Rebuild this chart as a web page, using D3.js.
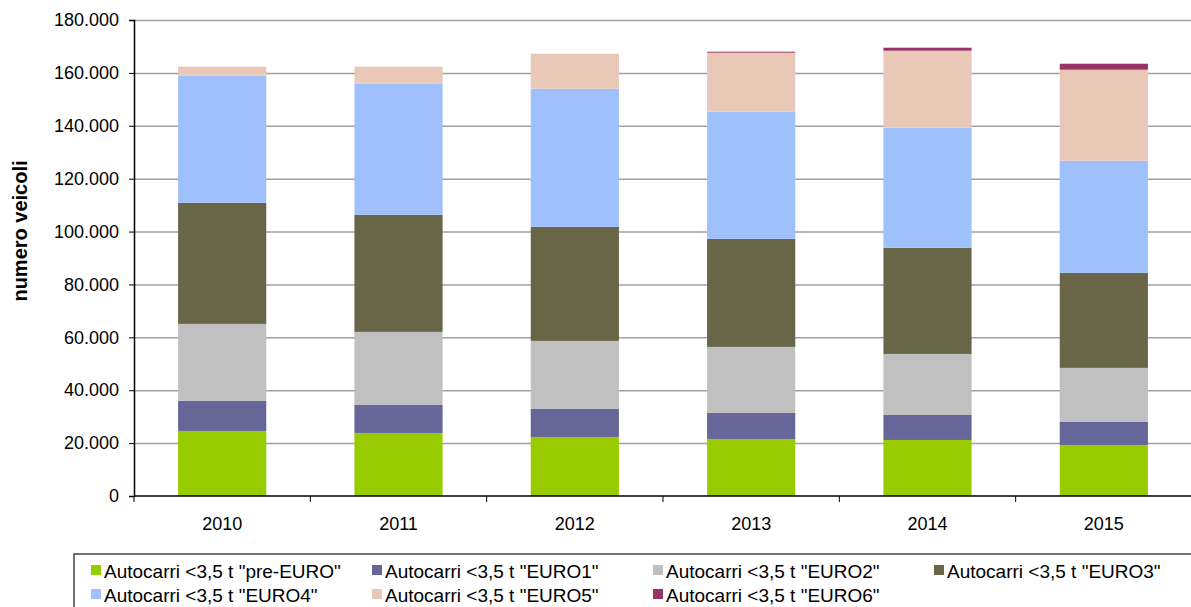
<!DOCTYPE html>
<html><head><meta charset="utf-8">
<script src="https://cdn.jsdelivr.net/npm/d3@7"></script>
<style>
html,body{margin:0;padding:0;background:#fff;}
svg{display:block;font-family:"Liberation Sans",Arial,sans-serif;}
</style></head>
<body><svg id="c" width="1191" height="607"></svg>
<script>
const years = ["2010","2011","2012","2013","2014","2015"];
const seriesNames = ['Autocarri <3,5 t "pre-EURO"','Autocarri <3,5 t "EURO1"','Autocarri <3,5 t "EURO2"','Autocarri <3,5 t "EURO3"','Autocarri <3,5 t "EURO4"','Autocarri <3,5 t "EURO5"','Autocarri <3,5 t "EURO6"'];
const preEuro = [24600, 23840, 22330, 21570, 21190, 19300];
const euro1   = [11350, 10590, 10590,  9840,  9460,  8700];
const euro2   = [29130, 27630, 25730, 24970, 23080, 20440];
const euro3   = [45790, 44270, 43140, 40870, 40110, 35940];
const euro4   = [48170, 49680, 52220, 48060, 45410, 42380];
const euro5   = [ 3290,  6320, 13240, 22320, 29140, 34440];
const euro6   = [    0,     0,     0,   380,  1130,  2270];
const yTicks  = [0,20000,40000,60000,80000,100000,120000,140000,160000,180000];
const colors  = ["#99CC00","#666699","#C0C0C0","#696648","#A0C0FC","#EAC8B8","#993366"];
const yTitle  = "numero veicoli";

const allSeries = [preEuro,euro1,euro2,euro3,euro4,euro5,euro6];
const rows = years.map((y,i)=>{const o={year:y}; seriesNames.forEach((s,j)=>o[s]=allSeries[j][i]); return o;});
const stacked = d3.stack().keys(seriesNames)(rows);

const svg = d3.select("#c");
const L=134, R=1192, T=20, B=496;
const FONT = "Liberation Sans, Arial, sans-serif";
const x = d3.scaleBand().domain(years).range([L,R]).paddingInner(0.5).paddingOuter(0.25);
const xb = d3.scaleBand().domain(years).range([L,R]);
const y = d3.scaleLinear().domain([0,180000]).range([B,T]);
const loc = d3.formatLocale({decimal:",",thousands:".",grouping:[3],currency:["€",""]});
const fmt = loc.format(",d");

// gridlines
svg.append("g").selectAll("line").data(yTicks.filter(d=>d>0)).join("line")
  .attr("x1",L).attr("x2",R).attr("y1",d=>y(d)+0.5).attr("y2",d=>y(d)+0.5)
  .attr("stroke","#a0a0a0").attr("stroke-width",1.5);

// bars
svg.append("g").selectAll("g").data(stacked).join("g")
  .attr("fill",(d,i)=>colors[i])
  .selectAll("rect").data(d=>d).join("rect")
  .attr("x",d=>x(d.data.year)).attr("width",x.bandwidth())
  .attr("y",d=>y(d[1])).attr("height",d=>Math.max(0,y(d[0])-y(d[1])));

// y axis
const ya = svg.append("g").attr("transform",`translate(${L},0)`)
  .call(d3.axisLeft(y).tickValues(yTicks).tickFormat(fmt).tickSize(5).tickPadding(10));
ya.attr("font-size",18).attr("font-family",FONT);
ya.select(".domain").attr("stroke","#000").attr("stroke-width",1.5);
ya.selectAll(".tick line").attr("stroke","#000");
ya.selectAll("text").attr("fill","#000");

// x axis
const xa = svg.append("g").attr("transform",`translate(0,${B})`)
  .call(d3.axisBottom(xb).tickSize(0).tickPadding(21));
xa.attr("font-size",18).attr("font-family",FONT);
xa.select(".domain").remove();
xa.selectAll("text").attr("fill","#000");
svg.append("line").attr("x1",L).attr("x2",R).attr("y1",B).attr("y2",B).attr("stroke","#000").attr("stroke-width",1.5);
svg.append("g").selectAll("line").data(years).join("line")
  .attr("x1",d=>xb(d)).attr("x2",d=>xb(d)).attr("y1",B).attr("y2",B+6)
  .attr("stroke","#000").attr("stroke-width",1);

// y title
svg.append("text").attr("transform","translate(27,231) rotate(-90)")
  .attr("text-anchor","middle").attr("font-size",20).attr("font-weight","bold").text(yTitle);

// legend
svg.append("rect").attr("x",74).attr("y",554).attr("width",1200).attr("height",80)
  .attr("fill","#fff").attr("stroke","#444").attr("stroke-width",1.5);
const lg = svg.append("g").selectAll("g").data(seriesNames).join("g")
  .attr("transform",(d,i)=>`translate(${91+(i%4)*281},${570+Math.floor(i/4)*24})`);
lg.append("rect").attr("x",0).attr("y",-5).attr("width",10).attr("height",10).attr("fill",(d,i)=>colors[i]);
lg.append("text").attr("x",13).attr("y",1).attr("dy","0.35em").attr("font-size",19).text(d=>d);
</script></body></html>
